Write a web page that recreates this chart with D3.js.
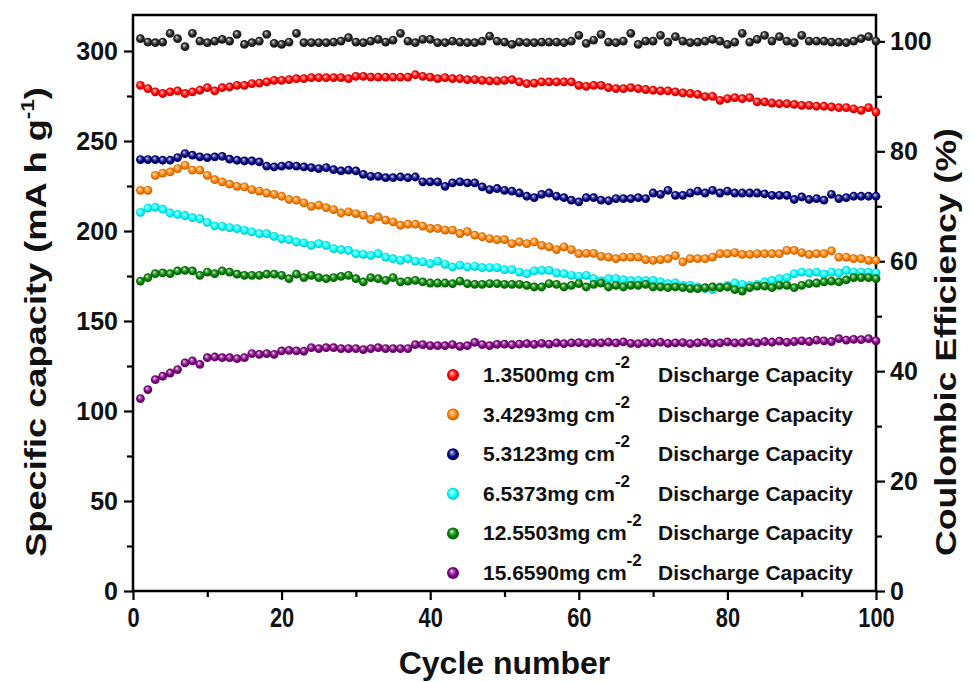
<!DOCTYPE html>
<html>
<head>
<meta charset="utf-8">
<script src="https://cdn.jsdelivr.net/npm/d3@7"></script>
<style>
  body { margin: 0; background: #fff; }
  svg text { font-family: "Liberation Sans", Arial, sans-serif; font-weight: bold; fill: #111; }
</style>
</head>
<body>
<div id="chart"></div>
<script>
// cycle numbers (x categories)
const cycles = d3.range(1, 101);

// discharge capacity, mA h g-1
const cap1350 = [
  280.9, 279.1, 277.3, 276.4, 277.3, 277.8, 276.4, 277.3, 278.2, 279.6,
  277.8, 279.6, 280.0, 280.9, 280.9, 281.9, 282.2, 282.8, 283.7, 283.7,
  284.1, 284.6, 284.6, 285.2, 285.2, 285.2, 285.2, 285.2, 284.6, 285.9,
  285.9, 285.5, 285.5, 285.5, 285.5, 285.5, 285.5, 286.8, 285.9, 285.5,
  284.6, 285.2, 284.6, 284.6, 284.1, 284.1, 283.7, 283.4, 283.4, 283.7,
  284.1, 282.8, 281.9, 282.2, 282.8, 282.8, 282.8, 282.8, 282.8, 280.9,
  280.4, 280.9, 280.9, 279.6, 279.1, 279.1, 279.6, 279.1, 278.6, 278.2,
  277.8, 277.8, 277.3, 276.7, 276.4, 275.9, 274.6, 274.8, 272.6, 273.5,
  274.1, 273.5, 274.1, 271.7, 271.7, 271.1, 270.7, 270.7, 270.3, 269.8,
  269.8, 269.3, 269.3, 268.9, 268.5, 268.5, 267.9, 267.0, 268.5, 266.1
];
const cap3429 = [
  222.6, 222.6, 230.9, 232.2, 232.8, 234.7, 236.5, 233.8, 233.8, 230.9,
  228.5, 227.3, 226.0, 224.8, 224.5, 223.0, 222.2, 221.1, 220.4, 219.3,
  217.5, 217.1, 215.6, 213.7, 214.3, 213.0, 211.9, 210.0, 210.6, 209.7,
  208.8, 206.4, 207.8, 206.0, 205.1, 203.2, 203.8, 203.8, 202.7, 201.4,
  201.4, 200.5, 200.5, 198.6, 199.6, 197.7, 196.8, 195.8, 195.2, 195.2,
  193.0, 193.9, 193.0, 193.9, 192.0, 191.2, 189.7, 191.2, 189.7, 187.4,
  187.6, 187.6, 185.9, 185.5, 184.6, 185.5, 185.5, 185.5, 184.1, 183.7,
  184.1, 184.6, 186.3, 182.8, 184.6, 184.6, 184.6, 185.5, 187.4, 187.4,
  188.0, 187.0, 187.0, 187.4, 187.4, 187.4, 187.4, 189.2, 189.2, 188.0,
  187.0, 187.4, 187.4, 188.9, 185.5, 185.5, 184.6, 184.6, 183.7, 183.7
];
const cap5312 = [
  239.7, 239.7, 239.7, 239.3, 239.3, 240.8, 243.0, 242.1, 241.2, 240.8,
  241.2, 241.5, 239.9, 239.3, 238.9, 238.9, 238.4, 236.0, 235.6, 236.0,
  236.5, 236.0, 235.6, 235.2, 234.7, 235.2, 234.1, 233.4, 233.8, 233.4,
  231.5, 230.4, 230.4, 229.6, 229.6, 230.0, 229.6, 230.0, 227.3, 227.3,
  227.3, 224.8, 226.7, 227.3, 226.7, 226.7, 224.5, 223.0, 223.6, 222.6,
  222.2, 221.1, 219.3, 218.5, 220.4, 221.1, 219.3, 218.5, 217.1, 216.2,
  218.5, 218.5, 217.1, 216.8, 218.0, 218.0, 218.0, 218.5, 218.0, 221.1,
  220.4, 222.6, 219.8, 219.8, 221.1, 222.2, 221.1, 222.6, 221.1, 222.2,
  221.1, 221.1, 221.1, 221.1, 220.6, 219.8, 219.8, 219.8, 217.5, 218.9,
  217.5, 218.0, 217.1, 220.4, 218.0, 218.5, 219.3, 219.3, 219.3, 219.3
];
const cap6537 = [
  210.3, 212.7, 213.2, 212.1, 210.0, 209.2, 208.6, 207.4, 206.8, 204.8,
  202.9, 202.6, 201.9, 201.3, 200.4, 199.5, 198.5, 198.5, 197.0, 195.8,
  195.2, 193.9, 193.4, 192.0, 193.0, 192.0, 190.2, 189.6, 189.2, 187.4,
  187.0, 186.5, 187.4, 185.5, 184.6, 183.7, 184.6, 183.3, 182.8, 181.8,
  183.3, 181.5, 180.0, 181.0, 180.0, 180.4, 179.6, 179.7, 179.7, 178.5,
  178.5, 177.2, 176.3, 177.8, 178.1, 178.1, 176.7, 176.3, 175.4, 174.8,
  175.4, 173.5, 172.4, 173.5, 173.5, 173.0, 172.4, 172.6, 172.4, 172.6,
  171.7, 170.7, 171.1, 169.8, 169.8, 168.9, 168.0, 167.4, 168.9, 169.8,
  171.1, 170.4, 169.8, 170.4, 171.7, 172.6, 173.5, 174.1, 176.3, 177.2,
  176.7, 177.2, 176.0, 177.2, 176.7, 178.1, 177.2, 177.2, 177.2, 176.7
];
const cap12550 = [
  172.2, 174.1, 176.3, 176.7, 176.3, 177.8, 178.1, 177.8, 175.4, 177.2,
  176.3, 177.8, 177.2, 176.0, 175.4, 175.4, 175.4, 176.0, 176.0, 175.4,
  173.5, 176.0, 174.1, 175.4, 174.1, 173.5, 174.1, 174.8, 175.4, 173.5,
  171.7, 174.1, 173.5, 172.6, 174.1, 171.7, 172.2, 172.6, 171.7, 171.1,
  171.1, 171.1, 170.7, 172.2, 170.7, 170.4, 170.4, 170.8, 170.8, 170.4,
  170.4, 170.4, 169.8, 168.9, 168.9, 170.8, 170.4, 168.9, 169.8, 170.8,
  168.9, 170.4, 171.1, 168.9, 169.8, 168.9, 169.8, 169.8, 170.4, 168.9,
  168.9, 168.5, 168.9, 168.5, 168.0, 168.0, 168.5, 168.9, 168.5, 168.9,
  167.4, 166.6, 168.5, 169.4, 169.4, 168.5, 169.8, 169.8, 168.5, 169.8,
  170.8, 171.1, 171.7, 172.2, 171.7, 172.8, 174.1, 174.1, 174.1, 173.5
];
const cap15659 = [
  106.9, 111.9, 117.4, 119.3, 121.1, 123.0, 126.7, 127.8, 125.9, 129.6,
  130.0, 129.6, 129.6, 129.1, 129.6, 131.9, 131.5, 131.9, 131.5, 133.4,
  133.7, 133.4, 133.2, 135.2, 134.7, 135.2, 135.2, 134.7, 134.7, 134.7,
  134.1, 134.7, 135.2, 134.7, 134.7, 134.7, 134.7, 136.9, 136.9, 136.3,
  136.3, 136.3, 136.9, 135.9, 136.3, 138.1, 136.9, 136.3, 137.0, 137.2,
  136.8, 137.2, 137.4, 137.0, 137.6, 137.2, 137.8, 137.4, 137.8, 138.0,
  137.6, 138.0, 137.8, 138.2, 137.8, 138.4, 137.6, 137.4, 138.0, 137.8,
  138.2, 137.6, 137.8, 138.0, 137.4, 137.8, 138.2, 137.6, 137.8, 138.4,
  137.8, 138.0, 138.4, 137.8, 138.6, 138.2, 138.8, 138.2, 138.6, 139.0,
  138.6, 139.4, 139.0, 138.6, 140.2, 139.4, 139.8, 139.6, 140.2, 139.0
];
// coulombic efficiency, %
const coulombic = [
  100.49, 99.88, 99.76, 99.88, 101.46, 100.49, 99.03, 101.46, 100.06, 99.76,
  100.06, 100.37, 100.06, 101.28, 99.45, 99.76, 100.06, 101.28, 99.64, 99.45,
  99.88, 101.46, 99.76, 99.76, 99.76, 99.76, 99.88, 100.06, 100.67, 99.88,
  99.76, 100.06, 100.37, 99.88, 100.24, 101.46, 100.06, 99.76, 100.37, 100.37,
  99.76, 99.76, 100.06, 99.88, 99.76, 99.76, 100.06, 100.95, 100.06, 99.88,
  99.45, 99.88, 99.76, 99.76, 99.88, 99.88, 99.88, 99.76, 100.06, 101.09,
  99.64, 100.24, 101.28, 99.88, 99.76, 100.06, 101.46, 99.45, 100.06, 100.06,
  101.09, 99.88, 100.85, 100.06, 99.76, 99.88, 100.06, 100.37, 100.06, 99.45,
  99.88, 101.46, 99.88, 100.37, 101.09, 100.06, 100.85, 100.06, 99.76, 101.09,
  100.06, 100.06, 100.06, 99.88, 99.88, 99.76, 100.06, 100.49, 100.85, 100.06
];

const loadings = ["1.3500", "3.4293", "5.3123", "6.5373", "12.5503", "15.6590"];
const seriesColors = ["#ff0000", "#ff8000", "#000080", "#00ffff", "#008000", "#800080"];
const capSeries = [cap1350, cap3429, cap5312, cap6537, cap12550, cap15659];

const xTicks = [0, 20, 40, 60, 80, 100];
const yLeftTicks = [0, 50, 100, 150, 200, 250, 300];
const yRightTicks = [0, 20, 40, 60, 80, 100];

// layout
const width = 973, height = 682;
const plot = { left: 133, right: 876, top: 15, bottom: 591 };

const svg = d3.select("#chart").append("svg")
  .attr("width", width).attr("height", height);

const x = d3.scaleLinear().domain([0, 100]).range([plot.left, plot.right]);
const yL = d3.scaleLinear().domain([0, 320]).range([plot.bottom, plot.top]);
const yR = d3.scaleLinear().domain([0, 104.8]).range([plot.bottom, plot.top]);

// sphere gradients
const defs = svg.append("defs");
function addGradient(id, color) {
  const c = d3.color(color);
  const g = defs.append("radialGradient").attr("id", id)
    .attr("cx", "50%").attr("cy", "50%").attr("r", "55%")
    .attr("fx", "38%").attr("fy", "32%");
  g.append("stop").attr("offset", "0%").attr("stop-color", "#ffffff");
  g.append("stop").attr("offset", "22%").attr("stop-color", d3.interpolateRgb(color, "#ffffff")(0.45));
  g.append("stop").attr("offset", "60%").attr("stop-color", c.formatHex());
  g.append("stop").attr("offset", "100%").attr("stop-color", c.darker(1.2).formatHex());
}
seriesColors.forEach((c, i) => addGradient("g" + i, c));
addGradient("gk", "#202020");

// axes
const axisW = 2.5;
function styleAxis(g) {
  g.selectAll(".domain").remove();
  g.selectAll("line").attr("stroke", "#000").attr("stroke-width", 2.2);
  g.selectAll("text").style("font-size", "25px");
}

// minor ticks
svg.append("g").attr("transform", `translate(0,${plot.bottom})`)
  .call(d3.axisBottom(x).tickValues(d3.range(10, 100, 20)).tickSize(6).tickFormat(""))
  .call(styleAxis);
svg.append("g").attr("transform", `translate(${plot.left},0)`)
  .call(d3.axisLeft(yL).tickValues(d3.range(25, 320, 50)).tickSize(6).tickFormat(""))
  .call(styleAxis);
svg.append("g").attr("transform", `translate(${plot.right},0)`)
  .call(d3.axisRight(yR).tickValues(d3.range(10, 100, 20)).tickSize(6).tickFormat(""))
  .call(styleAxis);

// major ticks
const xAxis = svg.append("g").attr("transform", `translate(0,${plot.bottom})`)
  .call(d3.axisBottom(x).tickValues(xTicks).tickSize(9).tickPadding(7))
  .call(styleAxis);
xAxis.selectAll("text").style("font-size", "28px").attr("transform", "scale(0.78,1)");

svg.append("g").attr("transform", `translate(${plot.left},0)`)
  .call(d3.axisLeft(yL).tickValues(yLeftTicks).tickSize(9).tickPadding(6))
  .call(styleAxis);
svg.append("g").attr("transform", `translate(${plot.right},0)`)
  .call(d3.axisRight(yR).tickValues(yRightTicks).tickSize(9).tickPadding(5))
  .call(styleAxis);

// frame
svg.append("rect")
  .attr("x", plot.left).attr("y", plot.top)
  .attr("width", plot.right - plot.left).attr("height", plot.bottom - plot.top)
  .attr("fill", "none").attr("stroke", "#000").attr("stroke-width", axisW);

// data markers
const r = 4.4;
capSeries.forEach((vals, i) => {
  svg.append("g").selectAll("circle")
    .data(vals)
    .join("circle")
    .attr("cx", (d, j) => x(cycles[j]))
    .attr("cy", d => yL(d))
    .attr("r", r)
    .attr("fill", `url(#g${i})`);
});
svg.append("g").selectAll("circle")
  .data(coulombic)
  .join("circle")
  .attr("cx", (d, j) => x(cycles[j]))
  .attr("cy", d => yR(d))
  .attr("r", r)
  .attr("fill", "url(#gk)");

// legend
const legend = svg.append("g");
loadings.forEach((l, i) => {
  const yy = 382 + i * 39.6;
  legend.append("circle").attr("cx", 453).attr("cy", yy - 7).attr("r", 6)
    .attr("fill", `url(#g${i})`);
  const t = legend.append("text").attr("x", 483).attr("y", yy).style("font-size", "21px");
  t.append("tspan").text(l + "mg cm");
  t.append("tspan").attr("dy", -14).style("font-size", "17px").text("-2");
  legend.append("text").attr("x", 658).attr("y", yy).style("font-size", "21px")
    .text("Discharge Capacity");
});

// axis titles
svg.append("text")
  .attr("text-anchor", "middle")
  .attr("transform", "translate(46,322) rotate(-90) scale(1.25,1)")
  .style("font-size", "29px")
  .call(t => {
    t.append("tspan").text("Specific capacity (mA h g");
    t.append("tspan").attr("dy", -12).style("font-size", "18px").text("-1");
    t.append("tspan").attr("dy", 12).text(")");
  });

svg.append("text")
  .attr("text-anchor", "middle")
  .attr("transform", "translate(956,342) rotate(-90) scale(1.23,1)")
  .style("font-size", "29px")
  .text("Coulombic Efficiency (%)");

svg.append("text")
  .attr("text-anchor", "middle")
  .attr("transform", `translate(${(plot.left + plot.right) / 2},674)`)
  .style("font-size", "32px")
  .text("Cycle number");
</script>
</body>
</html>
